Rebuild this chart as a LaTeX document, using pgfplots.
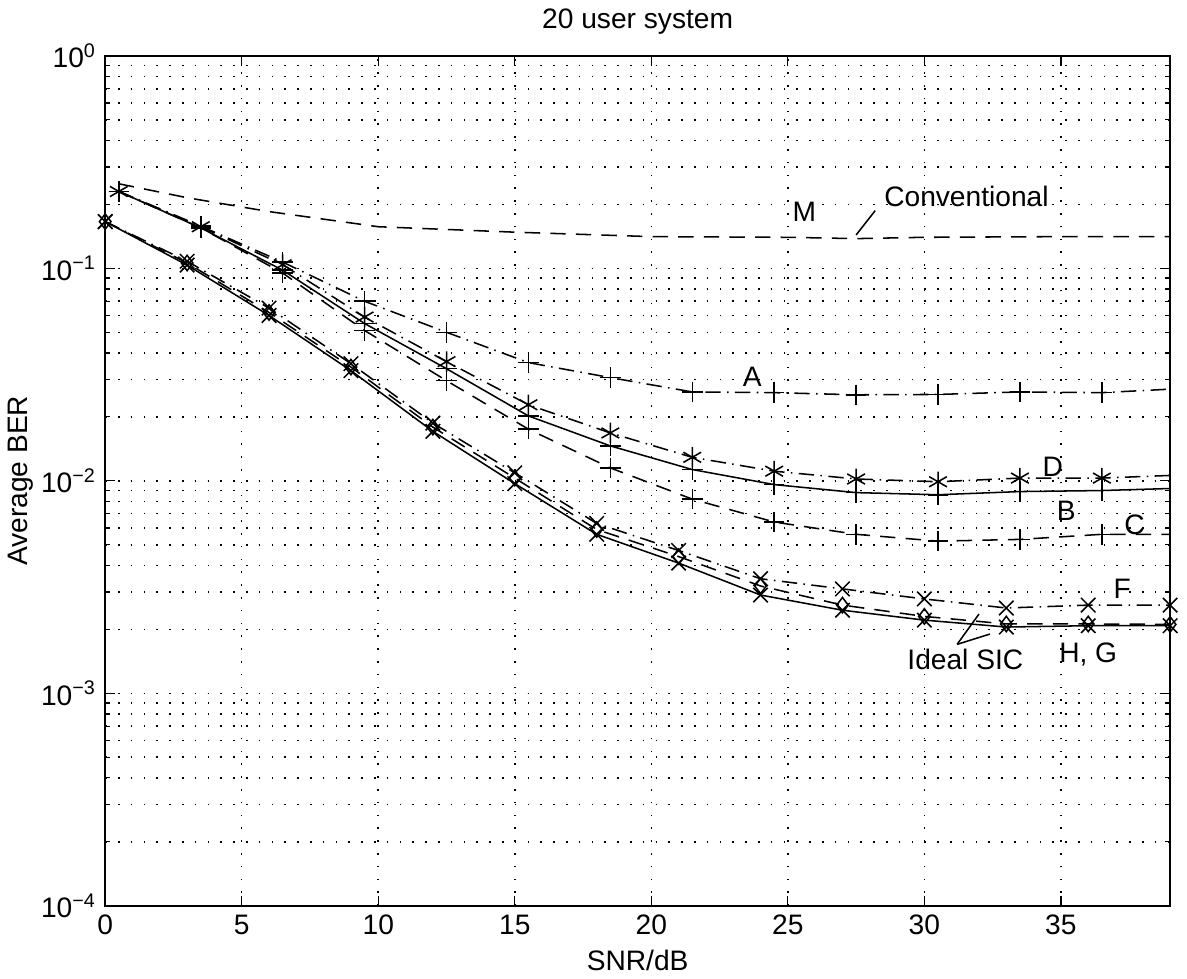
\documentclass[border=0pt]{standalone}
\usepackage{fontspec}
\setmainfont{Liberation Sans}
\usepackage{pgfplots}
\pgfplotsset{compat=1.18}

% MATLAB-like line styles
\tikzset{
  mdash/.style={dash pattern=on 6pt off 4pt},
  mdashdot/.style={dash pattern=on 6pt off 2.5pt on 0.6pt off 2.5pt},
}

\begin{document}
\begin{tikzpicture}[font=\fontsize{11}{13}\selectfont]
\begin{axis}[
  scale only axis,
  width=416pt, height=332pt,
  ymode=log,
  xmin=0, xmax=39, ymin=1e-4, ymax=1,
  xtick={0,5,...,35},
  ytick={1e-4,1e-3,1e-2,1e-1,1},
  yticklabels={10\textsuperscript{−4},10\textsuperscript{−3},10\textsuperscript{−2},10\textsuperscript{−1},10\textsuperscript{0}},
  /pgf/number format/assume math mode=true,
  tick align=inside,
  major tick length=4pt, minor tick length=2pt,
  tick style={black, line width=0.5pt},
  axis line style={line width=0.7pt},
  grid=both,
  major grid style={black, line width=0.6pt, dash pattern=on 0.6pt off 4.4pt},
  minor grid style={black, line width=0.6pt, dash pattern=on 0.6pt off 4.4pt},
  title={20 user system},
  title style={yshift=-1pt},
  xlabel={SNR/dB}, ylabel={Average BER},
  xlabel style={yshift=1pt},
  ylabel style={yshift=-4pt},
  every axis plot/.append style={black, line width=0.6pt, mark size=4pt,
    mark options={solid, line width=0.6pt}},
  clip=false,
]
% M: conventional
\addplot[mdash, mark=none] coordinates {
  (0.5,0.25)(3,0.215)(6,0.185)(10,0.157)(15,0.148)(20,0.141)(25,0.140)
  (27.5,0.138)(30,0.140)(35,0.141)(39,0.141)};
% A
\addplot[mdashdot, mark=+, mark indices={1,...,13}] coordinates {
  (0.5,0.23)(3.5,0.158)(6.5,0.107)(9.5,0.070)(12.5,0.050)(15.5,0.036)
  (18.5,0.0306)(21.5,0.0262)(24.5,0.026)(27.5,0.0254)(30.5,0.0255)
  (33.5,0.0262)(36.5,0.026)(39,0.027)};
% D
\addplot[mdashdot, mark=asterisk, mark indices={1,...,13}] coordinates {
  (0.5,0.23)(3.5,0.157)(6.5,0.104)(9.5,0.059)(12.5,0.0364)(15.5,0.0228)
  (18.5,0.0168)(21.5,0.0129)(24.5,0.0111)(27.5,0.0102)(30.5,0.0099)
  (33.5,0.0103)(36.5,0.0103)(39,0.0106)};
% B
\addplot[solid, mark=+, mark indices={1,...,13}] coordinates {
  (0.5,0.23)(3.5,0.155)(6.5,0.098)(9.5,0.055)(12.5,0.0337)(15.5,0.0202)
  (18.5,0.0146)(21.5,0.0113)(24.5,0.0096)(27.5,0.0088)(30.5,0.0086)
  (33.5,0.0089)(36.5,0.0090)(39,0.0092)};
% C
\addplot[mdash, mark=+, mark indices={1,...,13}] coordinates {
  (0.5,0.23)(3.5,0.155)(6.5,0.095)(9.5,0.051)(12.5,0.0296)(15.5,0.0175)
  (18.5,0.0115)(21.5,0.0082)(24.5,0.0064)(27.5,0.0056)(30.5,0.0052)
  (33.5,0.0053)(36.5,0.0056)(39,0.0056)};
% F
\addplot[mdashdot, mark=x] coordinates {
  (0,0.166)(3,0.108)(6,0.065)(9,0.0356)(12,0.0187)(15,0.0109)(18,0.0063)
  (21,0.0047)(24,0.00346)(27,0.0031)(30,0.00278)(33,0.00252)(36,0.0026)(39,0.0026)};
% G
\addplot[mdash, mark=diamond, mark size=3pt] coordinates {
  (0,0.166)(3,0.106)(6,0.062)(9,0.0343)(12,0.0179)(15,0.0103)(18,0.0059)
  (21,0.0044)(24,0.0032)(27,0.0026)(30,0.0023)(33,0.00212)(36,0.00212)(39,0.00211)};
% H: ideal SIC
\addplot[solid, mark=x] coordinates {
  (0,0.166)(3,0.1036)(6,0.060)(9,0.033)(12,0.0171)(15,0.0097)(18,0.0056)
  (21,0.0041)(24,0.0029)(27,0.00246)(30,0.00221)(33,0.00205)(36,0.00208)(39,0.00208)};

\node at (axis cs:25.6,0.185) {M};
\node[anchor=west] at (axis cs:28.2,0.217) {Conventional};
\draw[line width=0.6pt] (axis cs:27.5,0.1436) -- (axis cs:28.2,0.187);
\node at (axis cs:23.7,0.031) {A};
\node at (axis cs:34.7,0.0117) {D};
\node at (axis cs:35.2,0.0072) {B};
\node at (axis cs:37.7,0.0062) {C};
\node at (axis cs:37.25,0.0031) {F};
\node at (axis cs:36.0,0.00152) {H, G};
\node at (axis cs:31.5,0.00144) {Ideal SIC};
\draw[line width=0.6pt] (axis cs:31.2,0.0017) -- (axis cs:32.0,0.00236);
\draw[line width=0.6pt] (axis cs:31.2,0.0017) -- (axis cs:32.4,0.0019);
% right margin as in the original figure
\path (rel axis cs:1,0.5) ++(6.5pt,0) coordinate (rm);
\end{axis}
\path (rm) ++(0.1pt,0);
\end{tikzpicture}
\end{document}
